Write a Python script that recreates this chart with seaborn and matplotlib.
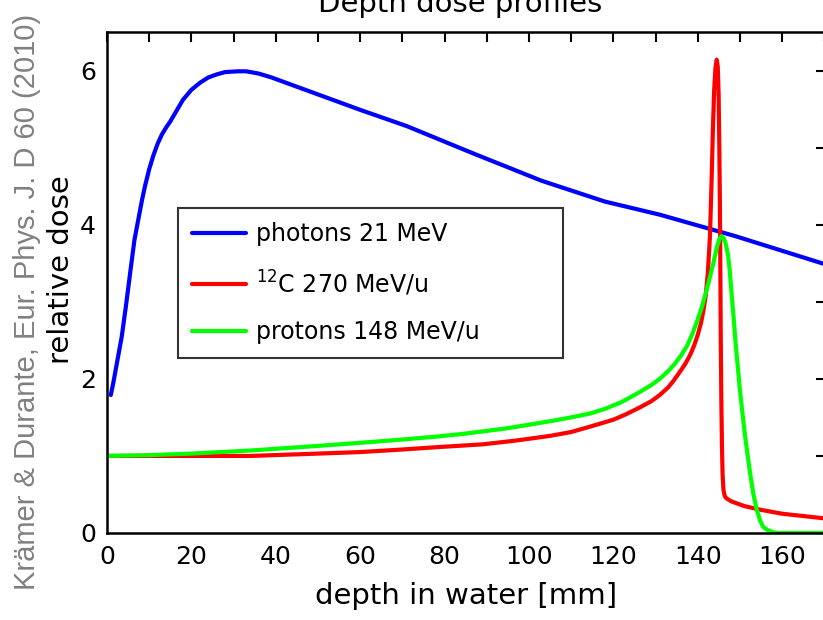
import pandas as pd
import seaborn as sns
import matplotlib.pyplot as plt
from matplotlib.ticker import MultipleLocator

# photons 21 MeV
photon_depth = [0.9, 1.5, 2, 3.5, 4.5, 5.5, 6.5, 7.6, 8.3, 9, 10, 11, 12, 13, 14,
                15, 16.5, 18, 20, 22, 24, 26, 28, 31, 33, 36, 39, 42, 46,
                50, 55, 60, 71, 87, 103, 118, 131, 149, 170]
photon_dose = [1.79, 1.95, 2.1, 2.55, 2.95, 3.38, 3.8, 4.12, 4.32, 4.5, 4.72,
               4.9, 5.05, 5.17, 5.26, 5.34, 5.48, 5.62, 5.75, 5.84, 5.91, 5.95,
               5.98, 5.99, 5.99, 5.96, 5.91, 5.85, 5.77, 5.69, 5.59, 5.49, 5.28,
               4.92, 4.57, 4.30, 4.13, 3.85, 3.49]

# 12C 270 MeV/u
carbon_depth = [0, 20, 34, 50, 60, 69, 80, 89, 97, 105, 110, 114.5, 120, 123,
                126.3, 129, 131, 133, 134.2, 135.5, 137, 138.2, 139.2, 140, 140.8,
                141.4, 141.9, 142.4, 142.9, 143.3, 143.6, 143.9, 144.2, 144.5,
                144.75, 144.95, 145.1, 145.25, 145.35, 145.45, 145.6, 145.75,
                145.9, 146.1, 146.4, 146.8, 148, 151, 155, 160, 165, 170]
carbon_dose = [1.00, 1.00, 1.00, 1.03, 1.05, 1.08, 1.12, 1.15, 1.20, 1.26, 1.31,
               1.38, 1.47, 1.54, 1.63, 1.71, 1.79, 1.89, 1.97, 2.07, 2.19, 2.31,
               2.44, 2.57, 2.73, 2.90, 3.08, 3.38, 3.85, 4.60, 5.25, 5.75, 6.03,
               6.14, 6.05, 5.70, 5.10, 4.30, 3.50, 2.60, 1.70, 1.10, 0.75, 0.56,
               0.48, 0.45, 0.41, 0.35, 0.30, 0.25, 0.22, 0.19]

# protons 148 MeV/u
proton_depth = [0, 10, 20, 34, 50, 60, 69.4, 78, 85, 95, 105, 110, 114.5, 118,
                122, 126.3, 129, 131, 133, 134.5, 136, 137.5, 138.7, 139.8, 140.8,
                141.7, 142.7, 143.7, 144.5, 145.1, 145.6, 146.1, 146.6, 147.2,
                147.6, 148, 148.5, 149, 149.5, 150, 150.6, 151.2, 151.8, 152.4,
                153.2, 154, 154.8, 155.5, 156.5, 157.9, 159, 170]
proton_dose = [1.00, 1.01, 1.03, 1.07, 1.13, 1.17, 1.21, 1.25, 1.29, 1.36, 1.45,
               1.50, 1.55, 1.61, 1.70, 1.83, 1.92, 2.00, 2.10, 2.19, 2.30, 2.43,
               2.58, 2.74, 2.90, 3.07, 3.28, 3.50, 3.70, 3.81, 3.85, 3.83, 3.76,
               3.60, 3.40, 3.12, 2.80, 2.45, 2.15, 1.86, 1.55, 1.27, 1.02, 0.78,
               0.50, 0.30, 0.16, 0.08, 0.04, 0.01, 0.0, 0.0]

labels = ["photons 21 MeV", "$^{12}$C 270 MeV/u", "protons 148 MeV/u"]
colors = ["#0000ff", "#ff0000", "#00ff00"]

sns.set_style("white")
plt.rcParams['font.family'] = ['DejaVu Sans']
plt.rcParams['text.color'] = 'black'
plt.rcParams['axes.labelcolor'] = 'black'
plt.rcParams['xtick.color'] = 'black'
plt.rcParams['ytick.color'] = 'black'

fig = plt.figure(figsize=(8.23, 6.2), dpi=100)
ax = fig.add_axes([107 / 823, 87 / 620, 719 / 823, 501 / 620])

series = [(photon_depth, photon_dose), (carbon_depth, carbon_dose), (proton_depth, proton_dose)]
for (d, v), lab, col in zip(series, labels, colors):
    df = pd.DataFrame({"depth": d, "dose": v})
    sns.lineplot(data=df, x="depth", y="dose", color=col, lw=3, label=lab,
                 estimator=None, ax=ax)

ax.set_xlim(0, 170.4)
ax.set_ylim(0, 6.5)
ax.xaxis.set_major_locator(MultipleLocator(20))
ax.xaxis.set_minor_locator(MultipleLocator(10))
ax.yaxis.set_major_locator(MultipleLocator(2))
ax.yaxis.set_minor_locator(MultipleLocator(1))
ax.tick_params(which="both", direction="in", top=True, right=True,
               length=7.5, width=1.5, color="black")
ax.tick_params(axis="x", which="major", labelsize=18, pad=9)
ax.tick_params(axis="y", which="major", labelsize=18, pad=8)
for s in ax.spines.values():
    s.set_linewidth(1.8)
    s.set_color("black")
ax.spines["right"].set_visible(False)

ax.set_xlabel("depth in water [mm]", fontsize=21, labelpad=9)
ax.set_ylabel("relative dose", fontsize=21)
ax.yaxis.set_label_coords(-0.044, 0.525)

leg = ax.legend(loc="upper left", bbox_to_anchor=(0.0987, 0.323, 0.535, 0.326),
                mode="expand", borderaxespad=0, fontsize=17, handlelength=2.3,
                handletextpad=0.4, labelspacing=0.95, borderpad=0.6,
                frameon=True, fancybox=False)
leg.get_frame().set_edgecolor("black")
leg.get_frame().set_linewidth(1.5)
for line in leg.get_lines():
    line.set_linewidth(3)

fig.text(460 / 823, 1 - 12 / 620, "Depth dose profiles", fontsize=21,
         ha="center", va="baseline")
fig.text(27 / 823, 1 - 590 / 620, "Krämer & Durante, Eur. Phys. J. D 60 (2010)",
         rotation=90, ha="center", va="bottom", fontsize=21, color="#808080",
         family=["Liberation Sans", "DejaVu Sans"])

fig.savefig("out.png", dpi=100)
